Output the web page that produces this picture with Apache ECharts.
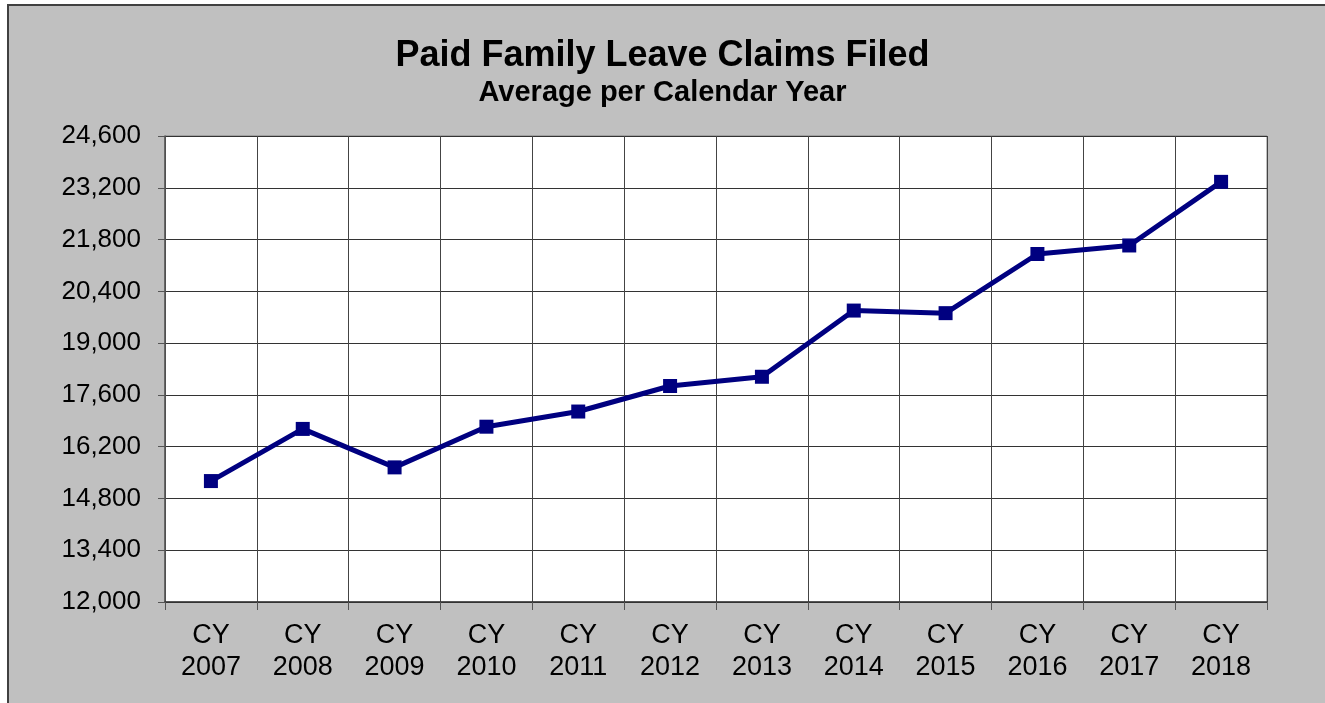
<!DOCTYPE html>
<html>
<head>
<meta charset="utf-8">
<script src="https://cdn.jsdelivr.net/npm/echarts@6/dist/echarts.min.js"></script>
<style>
  html, body { margin: 0; padding: 0; background: #fff; }
  #chart { width: 1325px; height: 703px; }
</style>
</head>
<body>
<div id="chart"></div>
<script>
// categories and the yearly averages
const years = ['CY\n2007', 'CY\n2008', 'CY\n2009', 'CY\n2010', 'CY\n2011', 'CY\n2012',
    'CY\n2013', 'CY\n2014', 'CY\n2015', 'CY\n2016', 'CY\n2017', 'CY\n2018'];
const claims = [15270, 16680, 15640, 16740, 17150, 17840, 18090, 19880, 19810, 21410, 21640, 23360];

const yMin = 12000;
const yMax = 24600;
const yStep = 1400;

const font = '"Liberation Sans", Arial, sans-serif';

const chart = echarts.init(document.getElementById('chart'), null, { renderer: 'canvas' });

const option = {
    backgroundColor: '#ffffff',
    animation: false,
    graphic: [
        {
            type: 'rect',
            z: -10,
            silent: true,
            shape: { x: 8, y: 5, width: 1600, height: 900 },
            style: { fill: '#c0c0c0', stroke: '#404040', lineWidth: 2 }
        }
    ],
    title: [
        {
            text: 'Paid Family Leave Claims Filed',
            left: 'center',
            top: 36,
            padding: 0,
            textStyle: {
                fontFamily: font,
                fontSize: 36,
                fontWeight: 'bold',
                color: '#000',
                lineHeight: 40
            }
        },
        {
            text: 'Average per Calendar Year',
            left: 'center',
            top: 77,
            padding: 0,
            textStyle: {
                fontFamily: font,
                fontSize: 29,
                fontWeight: 'bold',
                color: '#000',
                lineHeight: 32
            }
        }
    ],
    grid: {
        left: 165,
        right: 58,
        top: 136,
        bottom: 101,
        show: true,
        backgroundColor: '#ffffff',
        borderColor: '#808080',
        borderWidth: 1
    },
    xAxis: {
        type: 'category',
        data: years,
        boundaryGap: true,
        axisLine: { lineStyle: { color: '#333', width: 1.5 } },
        axisTick: { show: true, length: 8, lineStyle: { color: '#555' } },
        splitLine: { show: true, lineStyle: { color: '#444', width: 1 } },
        axisLabel: {
            interval: 0,
            margin: 18,
            fontFamily: font,
            fontSize: 27,
            lineHeight: 32,
            color: '#000',
            align: 'center'
        }
    },
    yAxis: {
        type: 'value',
        min: yMin,
        max: yMax,
        interval: yStep,
        axisLine: { show: true, lineStyle: { color: '#555', width: 1.5 } },
        axisTick: { show: true, length: 7, lineStyle: { color: '#555' } },
        splitLine: { show: true, lineStyle: { color: '#333', width: 1 } },
        axisLabel: {
            margin: 24,
            fontFamily: font,
            fontSize: 26,
            color: '#000',
            formatter: (v) => v.toLocaleString('en-US')
        }
    },
    series: [
        {
            type: 'line',
            data: claims,
            symbol: 'rect',
            symbolSize: 14,
            lineStyle: { color: '#000080', width: 5 },
            itemStyle: { color: '#000080' },
            z: 5
        }
    ]
};

chart.setOption(option);
</script>
</body>
</html>
